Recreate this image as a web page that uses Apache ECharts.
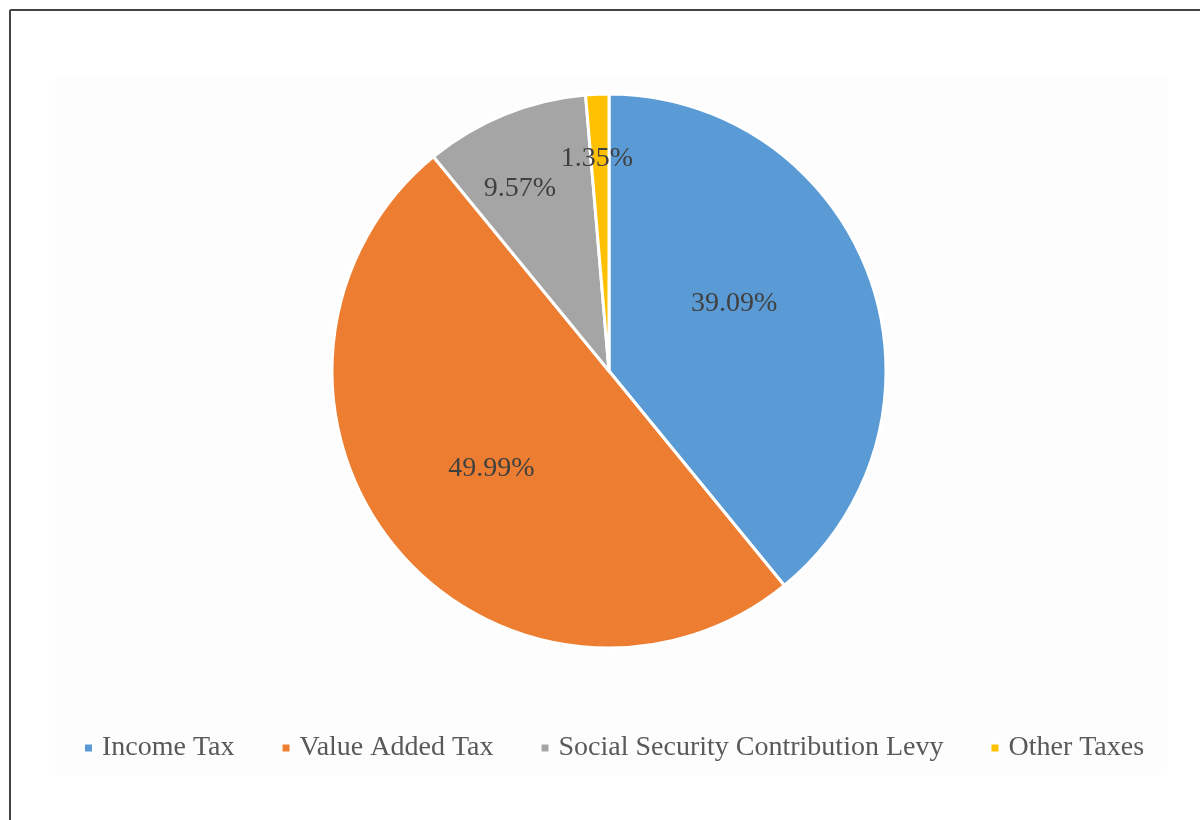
<!DOCTYPE html>
<html>
<head>
<meta charset="utf-8">
<script src="https://cdn.jsdelivr.net/npm/echarts@6/dist/echarts.min.js"></script>
<style>html,body{margin:0;padding:0;background:#fff}#c{width:1200px;height:820px}</style>
</head>
<body>
<div id="c"></div>
<script>
const categories = ['Income Tax', 'Value Added Tax', 'Social Security Contribution Levy', 'Other Taxes'];
const shares = [39.09, 49.99, 9.57, 1.35];
const colors = ['#5B9BD5', '#ED7D31', '#A5A5A5', '#FFC000'];
const labelOffsets = [[-8, -20], [-8, 8], [-36, -51], [-6, -71]];

const chart = echarts.init(document.getElementById('c'), null, {renderer: 'canvas'});
chart.setOption({
  animation: false,
  backgroundColor: '#ffffff',
  graphic: [
    {type: 'rect', shape: {x: 55, y: 77, width: 1112, height: 698}, style: {fill: '#fdfdfd'}, z: -10},
    {type: 'line', shape: {x1: 10, y1: 10, x2: 1200, y2: 10}, style: {stroke: '#444', lineWidth: 2}},
    {type: 'line', shape: {x1: 10, y1: 10, x2: 10, y2: 820}, style: {stroke: '#444', lineWidth: 2}}
  ],
  legend: {
    data: categories,
    left: 78,
    top: 729,
    orient: 'horizontal',
    icon: 'rect',
    itemWidth: 9,
    itemHeight: 9,
    itemGap: 46,
    textStyle: {fontFamily: 'Liberation Serif', fontSize: 28, color: '#595959', padding: [0, 0, 0, 4]}
  },
  series: [{
    type: 'pie',
    center: [609, 371],
    radius: [0, 277],
    startAngle: 90,
    clockwise: true,
    itemStyle: {borderColor: '#ffffff', borderWidth: 3},
    label: {
      show: true,
      position: 'inside',
      fontFamily: 'Liberation Serif',
      fontSize: 28,
      color: '#404040',
      formatter: p => p.value.toFixed(2) + '%'
    },
    labelLine: {show: false},
    emphasis: {disabled: true},
    data: categories.map((n, i) => ({
      name: n,
      value: shares[i],
      itemStyle: {color: colors[i]},
      label: {offset: labelOffsets[i]}
    }))
  }]
});
</script>
</body>
</html>
